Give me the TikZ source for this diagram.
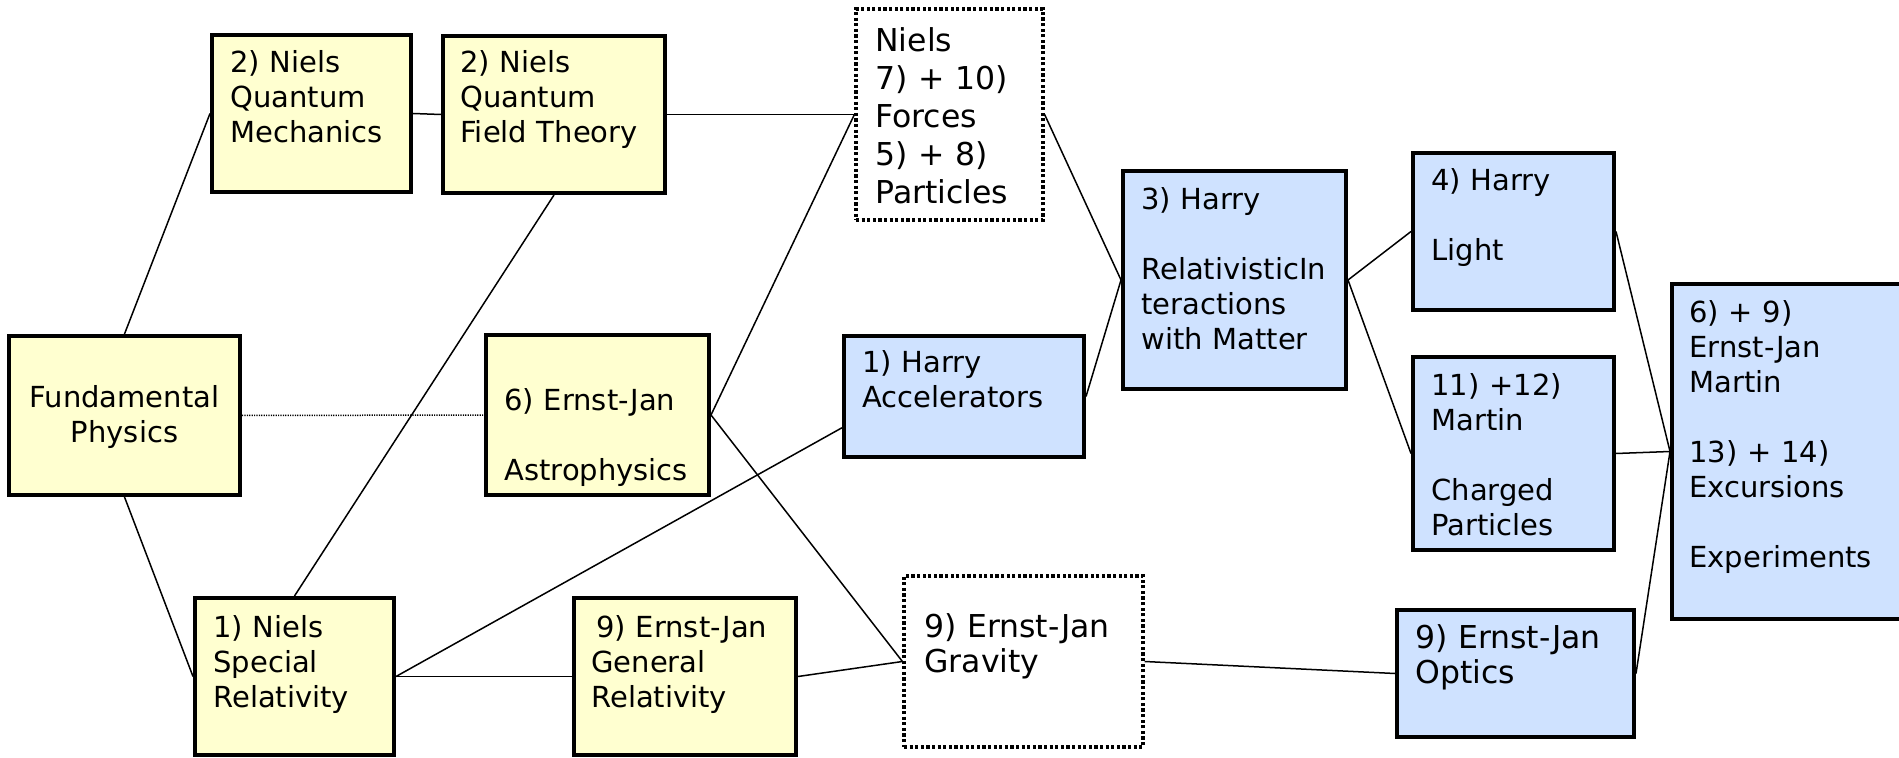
\documentclass[tikz,border=0pt]{standalone}
\usepackage{fontspec}
\setmainfont{DejaVu Sans}
\usetikzlibrary{calc,fit}
\definecolor{boxyellow}{HTML}{FFFFD0}
\definecolor{boxblue}{HTML}{CFE2FF}
\tikzset{
  box/.style={draw=black, line width=2pt, inner sep=0pt, rectangle},
  ybox/.style={box, fill=boxyellow},
  bbox/.style={box, fill=boxblue},
  dbox/.style={draw=black, line width=1.6pt, dash pattern=on 1.6pt off 1.2pt, fill=white, inner sep=0pt, rectangle},
  lbl/.style={anchor=base west, inner sep=0pt, align=left, text width=220pt, font=\fontsize{14.5pt}{17.5pt}\selectfont},
  lblbig/.style={lbl, font=\fontsize{15.75pt}{17.8pt}\selectfont},
  lblforces/.style={lbl, font=\fontsize{15.75pt}{19pt}\selectfont},
  conn/.style={line width=0.75pt},
  dotconn/.style={line width=0.75pt, dash pattern=on 0.6pt off 0.6pt},
}
\begin{document}
\begin{tikzpicture}[x=0.5pt,y=-0.5pt]
\useasboundingbox (0,0) rectangle (1899,758);
% boxes
\node[ybox, fit={(9,336) (240,495)}] (fp) {};
\node[ybox, fit={(212,35) (411,192)}] (qm) {};
\node[ybox, fit={(443,36) (665,193)}] (qft) {};
\node[dbox, fit={(856,9) (1043,220)}] (forces) {};
\node[ybox, fit={(486,335) (709,495)}] (astro) {};
\node[bbox, fit={(844,336) (1084,457)}] (acc) {};
\node[bbox, fit={(1123,171) (1346,389)}] (rel) {};
\node[bbox, fit={(1413,153) (1614,310)}] (light) {};
\node[bbox, fit={(1413,357) (1614,550)}] (martin) {};
\node[bbox, fit={(1672,284) (1950,619)}] (big) {};
\node[bbox, fit={(1397,610) (1634,737)}] (optics) {};
\node[dbox, fit={(904,576) (1143,747)}] (grav) {};
\node[ybox, fit={(574,598) (796,755)}] (gr) {};
\node[ybox, fit={(195,598) (394,755)}] (sr) {};
% connectors
\draw[conn] (fp.north) -- (qm.west);
\draw[conn] (fp.south) -- (sr.west);
\draw[dotconn] (fp.east) -- (astro.west);
\draw[conn] (qm.east) -- (qft.west);
\draw[conn] (qft.east) -- (forces.west);
\draw[conn] (qft.south) -- (sr.north);
\draw[conn] (astro.east) -- (forces.west);
\draw[conn] (astro.east) -- (grav.west);
\draw[conn] (sr.east) -- ($(acc.south west)!0.25!(acc.north west)$);
\draw[conn] (sr.east) -- (gr.west);
\draw[conn] (gr.east) -- (grav.west);
\draw[conn] (forces.east) -- (rel.west);
\draw[conn] (acc.east) -- (rel.west);
\draw[conn] (rel.east) -- (light.west);
\draw[conn] (rel.east) -- (martin.west);
\draw[conn] (light.east) -- (big.west);
\draw[conn] (martin.east) -- (big.west);
\draw[conn] (optics.east) -- (big.west);
\draw[conn] (grav.east) -- (optics.west);
% labels
\node[lbl, align=center, anchor=base, text width=115pt] (tfp) at (124.5,408) {Fundamental\\Physics};
\node[lbl] (tqm) at (230,73) {2) Niels\\Quantum\\Mechanics};
\node[lbl] (tqft) at (460,73) {2) Niels\\Quantum\\Field Theory};
\node[lblforces] (tforces) at (875,52) {Niels\\7) + 10)\\Forces\\5) + 8)\\Particles};
\node[lbl] (tastro) at (504,411) {6) Ernst-Jan\\[17.5pt]Astrophysics};
\node[lbl] (tacc) at (862,373) {1) Harry\\Accelerators};
\node[lbl] (trel) at (1141,210) {3) Harry\\[17.5pt]RelativisticIn\\teractions\\with Matter};
\node[lbl] (tlight) at (1431,191) {4) Harry\\[17.5pt]Light};
\node[lbl] (tmartin) at (1431,396) {11) +12)\\Martin\\[17.5pt]Charged\\Particles};
\node[lbl] (tbig) at (1689,323) {6) + 9)\\Ernst-Jan\\Martin\\[17.5pt]13) + 14)\\Excursions\\[17.5pt]Experiments};
\node[lblbig] (toptics) at (1415,648) {9) Ernst-Jan\\Optics};
\node[lblbig] (tgrav) at (924,637) {9) Ernst-Jan\\Gravity};
\node[lbl] (tgr) at (591,637) {\hspace*{2.5pt}9) Ernst-Jan\\General\\Relativity};
\node[lbl] (tsr) at (213,637) {1) Niels\\Special\\Relativity};
\end{tikzpicture}
\end{document}
